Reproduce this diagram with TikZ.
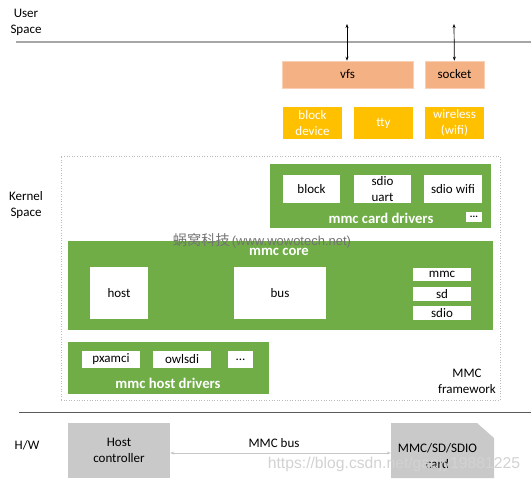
\documentclass[tikz,border=0pt]{standalone}
\usepackage{fontspec}
\setmainfont{Carlito}
\newfontfamily\cjkfont{Noto Sans CJK SC}
\newfontfamily\markfont{Liberation Sans}
\usepackage{tikz}
\usetikzlibrary{arrows.meta}

\definecolor{mmcgreen}{HTML}{70AD47}
\definecolor{vfssalmon}{HTML}{F4B183}
\definecolor{subgold}{HTML}{FFC000}
\definecolor{hwgray}{HTML}{C9C9C9}

\begin{document}
\begin{tikzpicture}[x=1pt, y=-1pt,
    every node/.style = {font=\fontsize{13}{16}\selectfont, align=center, inner sep=0pt},
    wh/.style 2 args = {minimum width=#1pt, minimum height=#2pt},
    whitebox/.style = {fill=white},
    greenbox/.style = {fill=mmcgreen},
    vfsbox/.style = {fill=vfssalmon, draw=vfssalmon!60!white, line width=0.6pt},
    subbox/.style = {fill=subgold, text=white},
    hwbox/.style = {fill=hwgray},
    grouplabel/.style = {text=white, font=\fontsize{14.7}{17}\selectfont\bfseries},
    frame/.style = {draw=gray!55, line width=0.7pt, dash pattern=on 1pt off 1.6pt}]
    \useasboundingbox (0,0) rectangle (531,480);

    % user space
    \node (user) at (26,22) {User\\Space};
    \draw[gray!70, line width=2pt] (16,42.3) -- (531,42.3);
    \node[vfsbox, wh={131}{27}] (vfs) at (347.5,74.5) {vfs};
    \node[vfsbox, wh={59}{27}] (socket) at (454.5,74.5) {socket};
    \coordinate (vfsup) at (347,24);
    \coordinate (sockup) at (454,24);
    \path[{Stealth[length=4pt,width=3pt]}-{Stealth[length=4pt,width=3pt]}, line width=0.7pt]
        (vfsup) edge (vfs.north -| vfsup) (sockup) edge (socket);
    \node[subbox, wh={59}{32}] (blkdev) at (312.5,123) {block\\device};
    \node[subbox, wh={59}{32}] (tty) at (383.5,123) {tty};
    \node[subbox, wh={59}{32}] (wireless) at (454.5,123) {wireless\\(wifi)};

    % kernel space
    \node (kernel) at (26,205.5) {Kernel\\Space};
    \node[frame, wh={439}{244}] (fw) at (280.5,278) {};
    \node (fwlabel) at (467,381) {MMC\\framework};

    \node[greenbox, wh={221}{64}] (carddrv) at (380.5,196) {};
    \node[whitebox, wh={57}{28}] (block) at (311.5,189) {block};
    \node[whitebox, wh={57}{28}] (sdiouart) at (382.5,189) {sdio\\uart};
    \node[whitebox, wh={58}{28}] (sdiowifi) at (453,189) {sdio wifi};
    \node[grouplabel] (cardlabel) at (381,218) {mmc card drivers};
    \node[whitebox, wh={16}{10}, font=\fontsize{10}{10}\selectfont\bfseries] (cardmore) at (474,217) {...};

    \node[greenbox, wh={425}{89}] (core) at (280.5,285.5) {};
    \node[grouplabel] (corelabel) at (279,252) {mmc core};
    \node[whitebox, wh={58}{52}] (host) at (119,293) {host};
    \node[whitebox, wh={92}{52}] (bus) at (280,293) {bus};
    \node[whitebox, wh={58}{13}] (mmc) at (442,274.5) {mmc};
    \node[whitebox, wh={58}{14}] (sd) at (442,294) {sd};
    \node[whitebox, wh={58}{14}] (sdio) at (442,313) {sdio};

    \node[greenbox, wh={201}{52}] (hostdrv) at (168.5,368) {};
    \node[whitebox, wh={58}{17}] (pxamci) at (111,359.5) {pxamci};
    \node[whitebox, wh={58}{17}] (owlsdi) at (182,359.5) {owlsdi};
    \node[whitebox, wh={25}{17}] (hostmore) at (240.5,359.5) {...};
    \node[grouplabel] (hostlabel) at (168,383.5) {mmc host drivers};

    % hardware
    \draw[black!65, line width=1.3pt] (19,412.5) -- (531,412.5);
    \node (hw) at (27,445) {H/W};
    \node[hwbox, wh={102}{55}] (hostctl) at (119,450.5) {Host\\controller};
    \fill[hwgray] (391,423) -- (477,423) -- (494,438) -- (494,478) -- (391,478) -- cycle;
    \node[wh={103}{55}] (card) at (442.5,450.5) {};
    \node (cardtext) at (437.5,456.5) {MMC/SD/SDIO\\card};
    \draw[{Stealth[length=4pt,width=3pt]}-{Stealth[length=4pt,width=3pt]}, gray!45, line width=1pt]
        ([yshift=-2.5pt]hostctl.east) -- ([yshift=-2.5pt]card.west);
    \node (mmcbus) at (274,443) {MMC bus};

    % watermarks
    \node[text=black!55] (mark1) at (262,241) {{\cjkfont\fontsize{14.2}{16}\selectfont 蜗窝科技}\,{\markfont\fontsize{13}{16}\selectfont(www.wowotech.net)}};
    \node[text=gray!35, font=\markfont\fontsize{15.7}{18}\selectfont] (mark2) at (394,464) {https://blog.csdn.net/gaojy19881225};
\end{tikzpicture}
\end{document}
